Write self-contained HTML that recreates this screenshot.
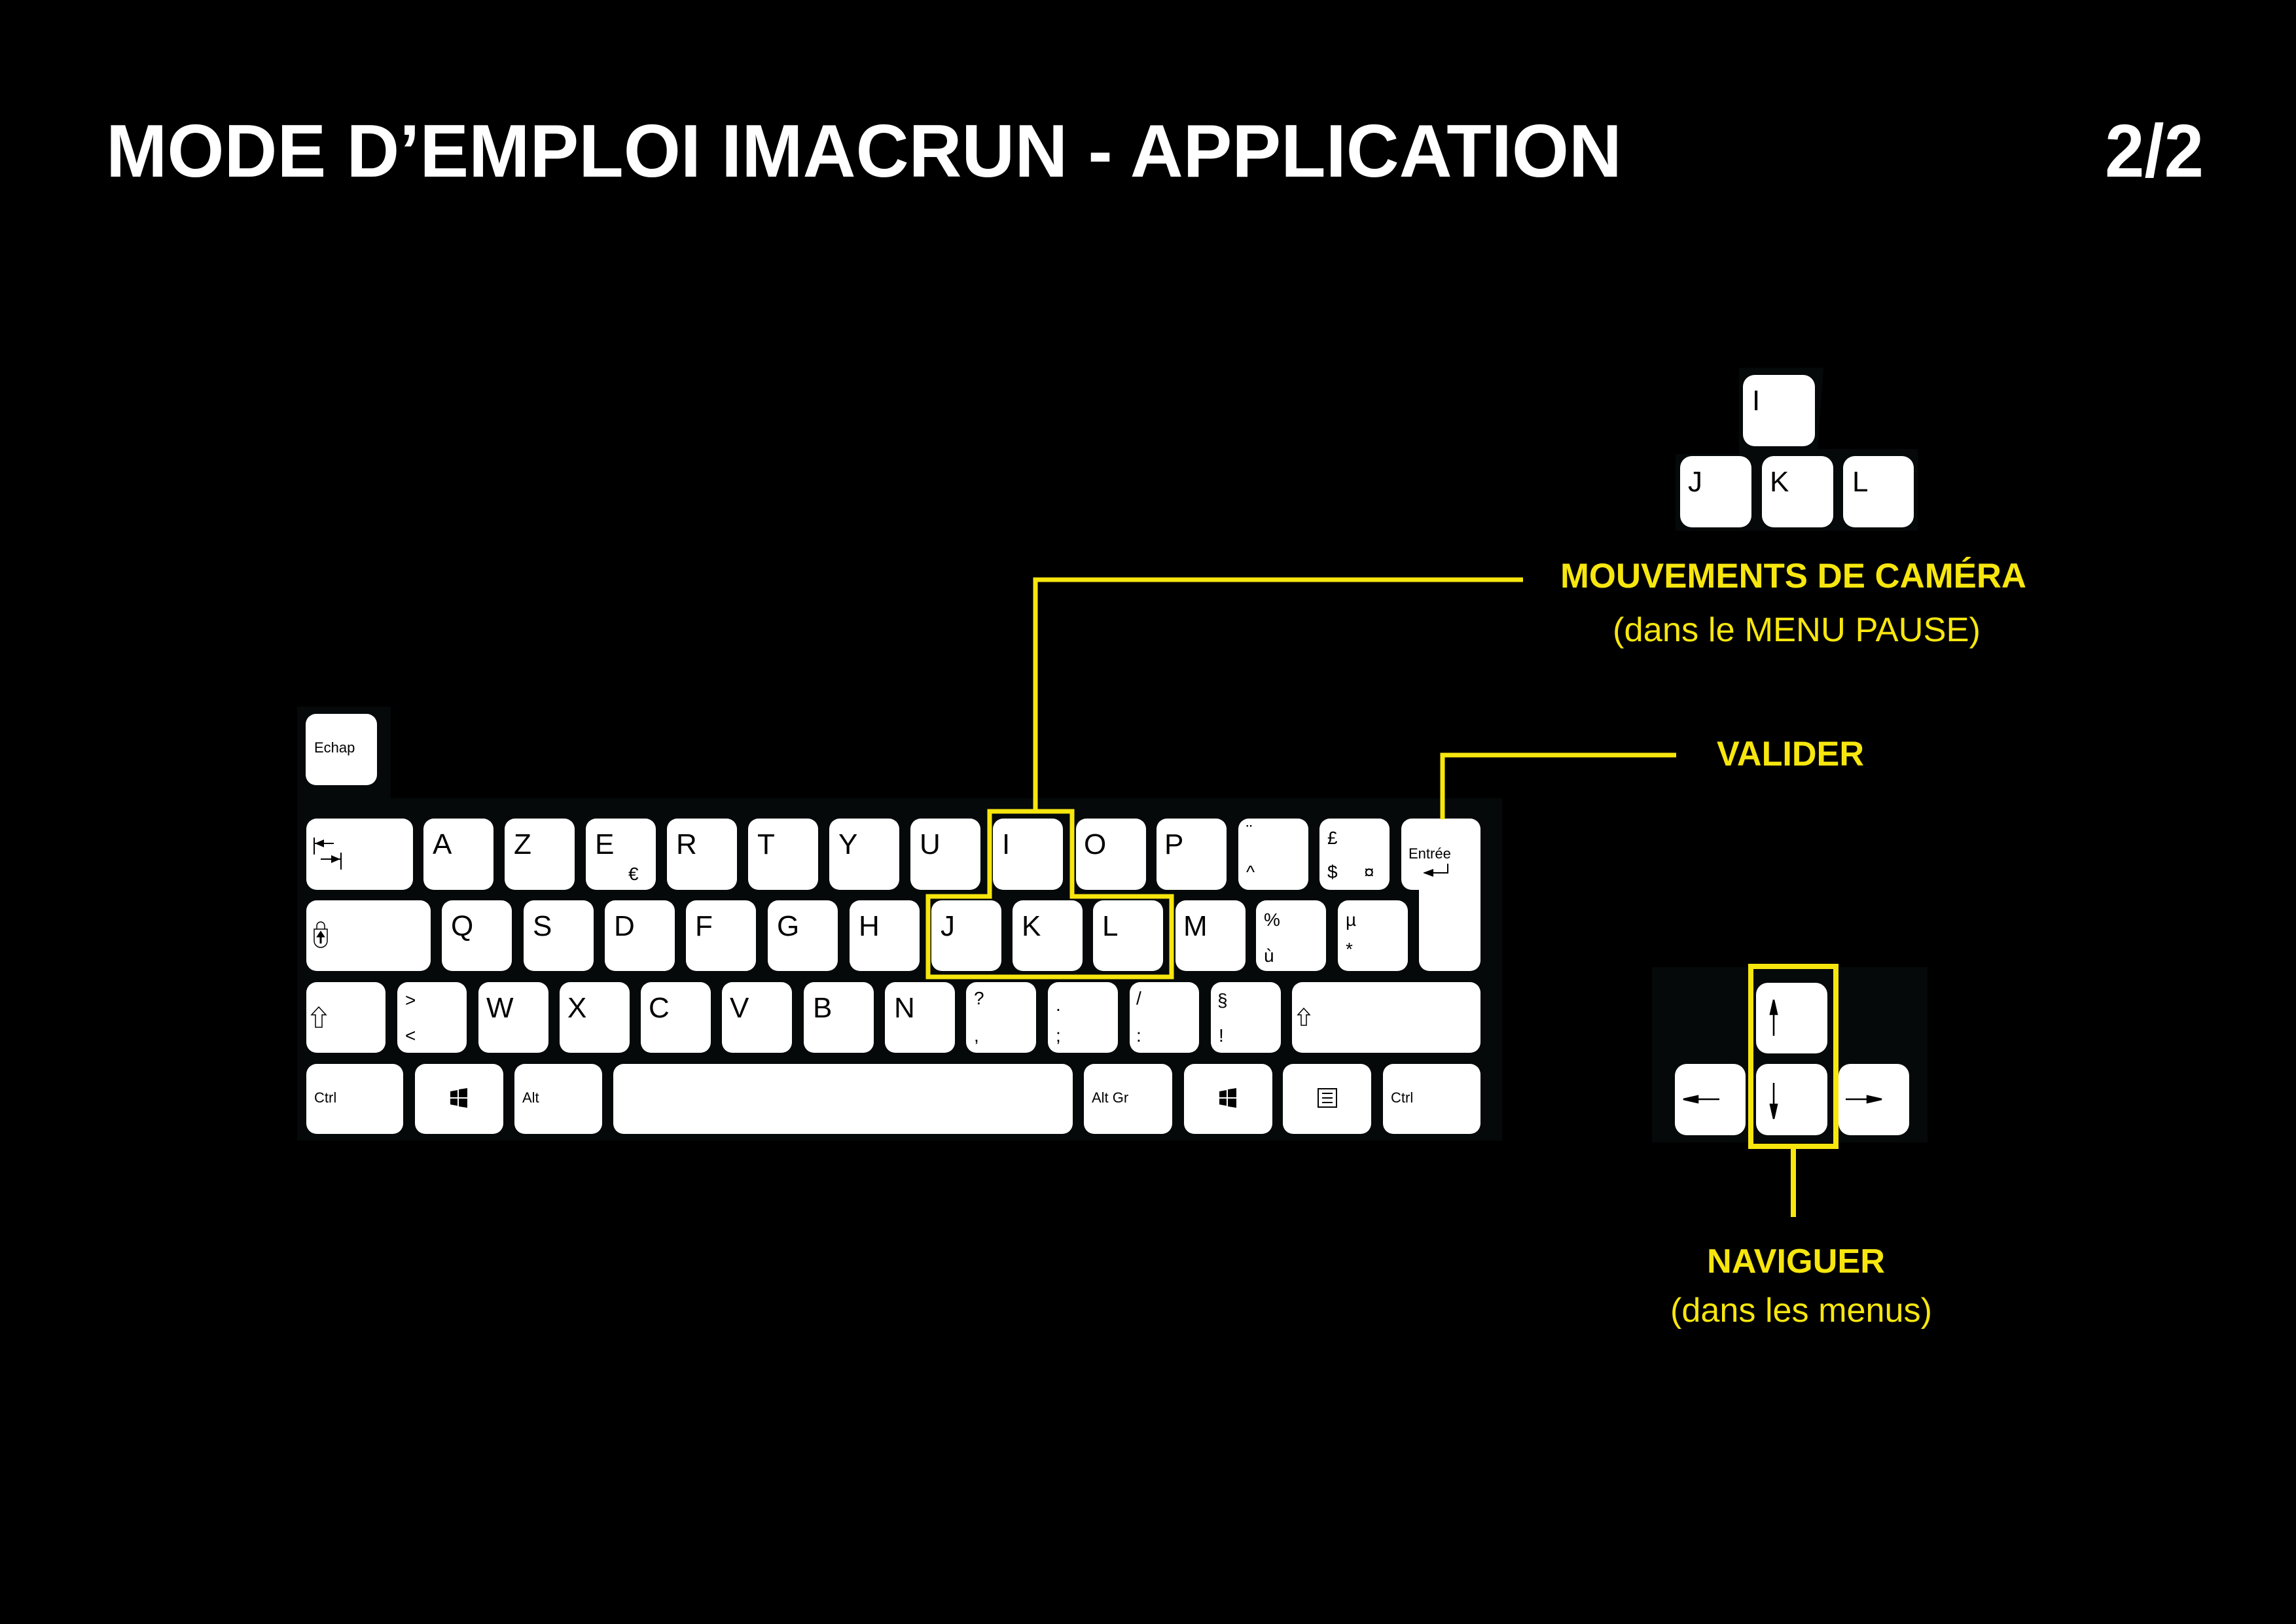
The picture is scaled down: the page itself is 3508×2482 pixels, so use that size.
<!DOCTYPE html>
<html><head><meta charset="utf-8"><style>
html,body{margin:0;padding:0;background:#000;}
svg{display:block}
.k{fill:#fff}
.L{font-family:"Liberation Sans",sans-serif;font-size:44px;fill:#000}
.s{font-family:"Liberation Sans",sans-serif;font-size:28px;fill:#000}
.t{font-family:"Liberation Sans",sans-serif;font-size:22px;fill:#000}
.y{fill:#f7e60e;font-family:"Liberation Sans",sans-serif}
</style></head><body>
<svg width="3508" height="2482" viewBox="0 0 3508 2482" xmlns="http://www.w3.org/2000/svg">
<rect width="3508" height="2482" fill="#000"/>
<text x="162" y="270" font-family="Liberation Sans, sans-serif" font-weight="bold" font-size="114" fill="#fff" textLength="2316" lengthAdjust="spacingAndGlyphs">MODE D’EMPLOI IMACRUN - APPLICATION</text>
<text x="3216" y="270" font-family="Liberation Sans, sans-serif" font-weight="bold" font-size="114" fill="#fff" textLength="151" lengthAdjust="spacingAndGlyphs">2/2</text>

<!-- keyboard bg -->
<rect x="454" y="1220" width="1841" height="523" fill="#05090a"/>
<rect x="454" y="1080" width="143" height="140" fill="#05090a"/>
<rect x="467" y="1091" width="109" height="109" rx="16" class="k"/>
<text x="480" y="1150" class="t">Echap</text>

<!-- Row1 -->
<g>
<rect x="468" y="1251" width="163" height="109" rx="16" class="k"/>
<path d="M480 1280v26M480 1289h30" stroke="#000" stroke-width="2" fill="none"/>
<path d="M481 1289l14-6v12z" fill="#000"/>
<path d="M521 1303v26M490 1313h30" stroke="#000" stroke-width="2" fill="none"/>
<path d="M520 1313l-14-6v12z" fill="#000"/>
<rect x="647" y="1251" width="107" height="109" rx="16" class="k"/><text x="661" y="1305" class="L">A</text>
<rect x="771" y="1251" width="107" height="109" rx="16" class="k"/><text x="785" y="1305" class="L">Z</text>
<rect x="895" y="1251" width="107" height="109" rx="16" class="k"/><text x="909" y="1305" class="L">E</text><text x="960" y="1345" class="s">€</text>
<rect x="1019" y="1251" width="107" height="109" rx="16" class="k"/><text x="1033" y="1305" class="L">R</text>
<rect x="1143" y="1251" width="107" height="109" rx="16" class="k"/><text x="1157" y="1305" class="L">T</text>
<rect x="1267" y="1251" width="107" height="109" rx="16" class="k"/><text x="1281" y="1305" class="L">Y</text>
<rect x="1391" y="1251" width="107" height="109" rx="16" class="k"/><text x="1405" y="1305" class="L">U</text>
<rect x="1517" y="1251" width="107" height="109" rx="16" class="k"/><text x="1531" y="1305" class="L">I</text>
<rect x="1644" y="1251" width="107" height="109" rx="16" class="k"/><text x="1656" y="1305" class="L">O</text>
<rect x="1767" y="1251" width="107" height="109" rx="16" class="k"/><text x="1779" y="1305" class="L">P</text>
<rect x="1892" y="1251" width="107" height="109" rx="16" class="k"/><text x="1904" y="1280" class="s">¨</text><text x="1904" y="1342" class="s">^</text>
<rect x="2016" y="1251" width="107" height="109" rx="16" class="k"/><text x="2028" y="1290" class="s">£</text><text x="2028" y="1342" class="s">$</text><text x="2084" y="1342" class="s">¤</text>
<path d="M2157 1251h89a16 16 0 0 1 16 16v201a16 16 0 0 1-16 16h-62a16 16 0 0 1-16-16v-108h-11a16 16 0 0 1-16-16v-77a16 16 0 0 1 16-16z" class="k"/>
<text x="2152" y="1312" class="t">Entrée</text>
<path d="M2212 1320v14h-36" stroke="#000" stroke-width="2" fill="none"/>
<path d="M2174 1334l16-6v12z" fill="#000"/>
</g>

<!-- Row2 -->
<g>
<rect x="468" y="1376" width="190" height="108" rx="16" class="k"/>
<path d="M480 1420h20v18a10 10 0 0 1-20 0z M484 1420v-5a6 6 0 0 1 12 0v5" stroke="#000" stroke-width="1.5" fill="none"/>
<path d="M490 1442v-14M486 1431l4-6 4 6z" stroke="#000" stroke-width="3" fill="#000"/>
<rect x="675" y="1376" width="107" height="108" rx="16" class="k"/><text x="689" y="1430" class="L">Q</text>
<rect x="800" y="1376" width="107" height="108" rx="16" class="k"/><text x="814" y="1430" class="L">S</text>
<rect x="924" y="1376" width="107" height="108" rx="16" class="k"/><text x="938" y="1430" class="L">D</text>
<rect x="1048" y="1376" width="107" height="108" rx="16" class="k"/><text x="1062" y="1430" class="L">F</text>
<rect x="1173" y="1376" width="107" height="108" rx="16" class="k"/><text x="1187" y="1430" class="L">G</text>
<rect x="1298" y="1376" width="107" height="108" rx="16" class="k"/><text x="1312" y="1430" class="L">H</text>
<rect x="1423" y="1376" width="107" height="108" rx="16" class="k"/><text x="1437" y="1430" class="L">J</text>
<rect x="1547" y="1376" width="107" height="108" rx="16" class="k"/><text x="1561" y="1430" class="L">K</text>
<rect x="1670" y="1376" width="107" height="108" rx="16" class="k"/><text x="1684" y="1430" class="L">L</text>
<rect x="1796" y="1376" width="107" height="108" rx="16" class="k"/><text x="1808" y="1430" class="L">M</text>
<rect x="1919" y="1376" width="107" height="108" rx="16" class="k"/><text x="1931" y="1415" class="s">%</text><text x="1931" y="1470" class="s">ù</text>
<rect x="2044" y="1376" width="107" height="108" rx="16" class="k"/><text x="2056" y="1415" class="s">µ</text><text x="2056" y="1460" class="s">*</text>
</g>

<!-- Row3 -->
<g>
<rect x="468" y="1501" width="121" height="108" rx="16" class="k"/>
<path d="M476 1551l11-12 11 12h-6v19h-10v-19z" stroke="#000" stroke-width="1.5" fill="#fff"/>
<rect x="607" y="1501" width="106" height="108" rx="16" class="k"/><text x="619" y="1538" class="s">&gt;</text><text x="619" y="1592" class="s">&lt;</text>
<rect x="731" y="1501" width="107" height="108" rx="16" class="k"/><text x="743" y="1555" class="L">W</text>
<rect x="855" y="1501" width="107" height="108" rx="16" class="k"/><text x="867" y="1555" class="L">X</text>
<rect x="979" y="1501" width="107" height="108" rx="16" class="k"/><text x="991" y="1555" class="L">C</text>
<rect x="1103" y="1501" width="107" height="108" rx="16" class="k"/><text x="1115" y="1555" class="L">V</text>
<rect x="1228" y="1501" width="107" height="108" rx="16" class="k"/><text x="1242" y="1555" class="L">B</text>
<rect x="1352" y="1501" width="107" height="108" rx="16" class="k"/><text x="1366" y="1555" class="L">N</text>
<rect x="1476" y="1501" width="107" height="108" rx="16" class="k"/><text x="1488" y="1535" class="s">?</text><text x="1488" y="1592" class="s">,</text>
<rect x="1601" y="1501" width="107" height="108" rx="16" class="k"/><text x="1613" y="1545" class="s">.</text><text x="1613" y="1592" class="s">;</text>
<rect x="1726" y="1501" width="106" height="108" rx="16" class="k"/><text x="1736" y="1535" class="s">/</text><text x="1736" y="1592" class="s">:</text>
<rect x="1850" y="1501" width="107" height="108" rx="16" class="k"/><text x="1860" y="1538" class="s">§</text><text x="1862" y="1592" class="s">!</text>
<rect x="1974" y="1501" width="288" height="108" rx="16" class="k"/>
<path d="M1983 1551l9-10 9 10h-5v16h-8v-16z" stroke="#000" stroke-width="1.5" fill="#fff"/>
</g>

<!-- Row4 -->
<g>
<rect x="468" y="1626" width="148" height="107" rx="16" class="k"/><text x="480" y="1685" class="t">Ctrl</text>
<rect x="634" y="1626" width="135" height="107" rx="16" class="k"/>
<path d="M688 1668l11-2v11h-11zM701 1665l13-2v14h-13zM688 1679h11v11l-11-2zM701 1679h13v14l-13-2z" fill="#000"/>
<rect x="786" y="1626" width="134" height="107" rx="16" class="k"/><text x="798" y="1685" class="t">Alt</text>
<rect x="937" y="1626" width="702" height="107" rx="16" class="k"/>
<rect x="1656" y="1626" width="135" height="107" rx="16" class="k"/><text x="1668" y="1685" class="t">Alt Gr</text>
<rect x="1809" y="1626" width="135" height="107" rx="16" class="k"/>
<path d="M1863 1668l11-2v11h-11zM1876 1665l13-2v14h-13zM1863 1679h11v11l-11-2zM1876 1679h13v14l-13-2z" fill="#000"/>
<rect x="1960" y="1626" width="135" height="107" rx="16" class="k"/>
<rect x="2014" y="1664" width="28" height="28" fill="none" stroke="#000" stroke-width="2"/>
<path d="M2020 1671h16M2020 1678h16M2020 1685h16" stroke="#000" stroke-width="2"/>
<rect x="2113" y="1626" width="149" height="107" rx="16" class="k"/><text x="2125" y="1685" class="t">Ctrl</text>
</g>

<!-- IJKL highlight -->
<path d="M1512 1240H1638V1370H1790V1493H1418V1370H1512Z" fill="none" stroke="#f7e60e" stroke-width="7"/>
<path d="M1582 1240V886H2327" fill="none" stroke="#f7e60e" stroke-width="7"/>
<path d="M2204 1252V1154H2561" fill="none" stroke="#f7e60e" stroke-width="7"/>

<!-- IJKL cluster -->
<path d="M2657 562H2786L2777 686H2930V811H2560V694H2657Z" fill="#05090a"/>
<rect x="2663" y="573" width="110" height="109" rx="18" class="k"/><text x="2677" y="627" class="L" font-size="50">I</text>
<rect x="2567" y="697" width="109" height="109" rx="18" class="k"/><text x="2579" y="751" class="L" font-size="50">J</text>
<rect x="2692" y="697" width="109" height="109" rx="18" class="k"/><text x="2704" y="751" class="L" font-size="50">K</text>
<rect x="2816" y="697" width="108" height="109" rx="18" class="k"/><text x="2830" y="751" class="L" font-size="50">L</text>

<text x="2384" y="898" class="y" font-weight="bold" font-size="53" textLength="712" lengthAdjust="spacingAndGlyphs">MOUVEMENTS DE CAMÉRA</text>
<text x="2464" y="980" class="y" font-size="52" textLength="562" lengthAdjust="spacingAndGlyphs">(dans le MENU PAUSE)</text>
<text x="2623" y="1170" class="y" font-weight="bold" font-size="53" textLength="225" lengthAdjust="spacingAndGlyphs">VALIDER</text>

<!-- Arrow cluster -->
<rect x="2524" y="1478" width="421" height="268" fill="#05090a"/>
<rect x="2683" y="1502" width="109" height="108" rx="18" class="k"/>
<rect x="2683" y="1626" width="109" height="109" rx="18" class="k"/>
<rect x="2559" y="1626" width="108" height="109" rx="18" class="k"/>
<rect x="2809" y="1626" width="108" height="109" rx="18" class="k"/>
<path d="M2710 1583V1535M2705 1550l5-22 5 22z" stroke="#000" stroke-width="2.5" fill="#000"/>
<path d="M2710 1655V1703M2705 1688l5 22 5-22z" stroke="#000" stroke-width="2.5" fill="#000"/>
<path d="M2627 1680H2580M2594 1675l-22 5 22 5z" stroke="#000" stroke-width="2.5" fill="#000"/>
<path d="M2820 1680H2867M2853 1675l22 5-22 5z" stroke="#000" stroke-width="2.5" fill="#000"/>
<rect x="2675" y="1477" width="130" height="275" fill="none" stroke="#f7e60e" stroke-width="8"/>
<path d="M2740 1756V1860" stroke="#f7e60e" stroke-width="8"/>
<text x="2608" y="1945" class="y" font-weight="bold" font-size="52" textLength="272" lengthAdjust="spacingAndGlyphs">NAVIGUER</text>
<text x="2552" y="2020" class="y" font-size="52" textLength="400" lengthAdjust="spacingAndGlyphs">(dans les menus)</text>
</svg>
</body></html>
